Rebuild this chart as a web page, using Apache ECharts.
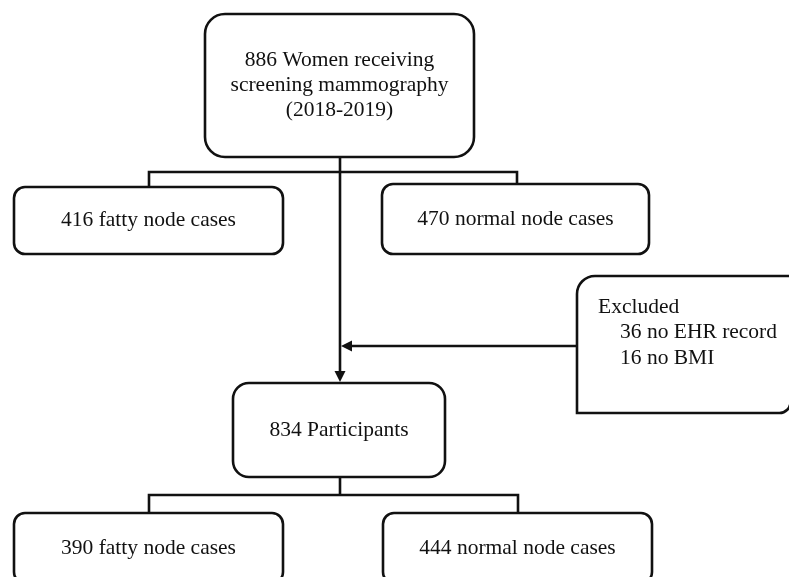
<!DOCTYPE html>
<html>
<head>
<meta charset="utf-8">
<script src="https://cdn.jsdelivr.net/npm/echarts@6/dist/echarts.min.js"></script>
<style>
html,body{margin:0;padding:0;background:#fff;}
#chart{width:789px;height:577px;}
</style>
</head>
<body>
<div id="chart"></div>
<script>
// ---- data ----
const screenedCount = 886;
const screenedLabel = ['Women receiving', 'screening mammography', '(2018-2019)'];
const nodeTypes = ['fatty node cases', 'normal node cases'];
const screenedByNode = [416, 470];
const excludedTitle = 'Excluded';
const excludedReasons = ['no EHR record', 'no BMI'];
const excludedCounts = [36, 16];
const participantCount = 834;
const participantLabel = 'Participants';
const participantsByNode = [390, 444];

// ---- layout (positions / sizes) ----
const FONT = '"Liberation Serif","Times New Roman",serif';
const FS = 21.5;
const LW = 2.6;
const INK = '#111';
const layout = {
  top: {x: 205, y: 14, w: 269, h: 143, r: 20},
  split1: [{x: 14, y: 187, w: 269, h: 67, r: 11}, {x: 382, y: 184, w: 267, h: 70, r: 11}],
  part: {x: 233, y: 383, w: 212, h: 94, r: 16},
  split2: [{x: 14, y: 513, w: 269, h: 70, r: 11}, {x: 383, y: 513, w: 269, h: 70, r: 11}],
  excl: {x: 577, y: 276, w: 213.5, h: 137, r: [18, 0, 11, 0]},
  spineX: 340,
  bar1Y: 172, bar2Y: 495,
  arrowY: 346
};

const els = [];
function box(b, lines, lineH) {
  els.push({type: 'rect', shape: {x: b.x, y: b.y, width: b.w, height: b.h, r: b.r},
    style: {fill: '#fff', stroke: INK, lineWidth: LW}, z: 2});
  const cx = b.x + b.w / 2, cy = b.y + b.h / 2;
  lines.forEach((t, i) => {
    els.push({type: 'text', x: cx, y: cy + (i - (lines.length - 1) / 2) * lineH,
      style: {text: t, font: FS + 'px ' + FONT, fill: INK, align: 'center', verticalAlign: 'middle'}, z: 3});
  });
}
function line(pts) {
  els.push({type: 'polyline', shape: {points: pts}, style: {stroke: INK, lineWidth: LW, fill: null}, z: 1});
}

const t = layout.top, L = layout;
// top box
box(t, [screenedCount + ' ' + screenedLabel[0], screenedLabel[1], screenedLabel[2]], 25);
// first split
line([[L.spineX, t.y + t.h], [L.spineX, L.part.y - 6]]);
line([[L.split1[0].x + L.split1[0].w / 2 + 0.5, L.split1[0].y], [L.split1[0].x + L.split1[0].w / 2 + 0.5, L.bar1Y],
      [L.split1[1].x + L.split1[1].w / 2 + 1.5, L.bar1Y], [L.split1[1].x + L.split1[1].w / 2 + 1.5, L.split1[1].y]]);
nodeTypes.forEach((n, i) => box(L.split1[i], [screenedByNode[i] + ' ' + n], 25));

// arrow heads
els.push({type: 'polygon', shape: {points: [[L.spineX - 5.5, L.part.y - 12], [L.spineX + 5.5, L.part.y - 12], [L.spineX, L.part.y - 1]]},
  style: {fill: INK}, z: 3});
line([[L.excl.x, L.arrowY], [L.spineX + 8, L.arrowY]]);
els.push({type: 'polygon', shape: {points: [[L.spineX + 12, L.arrowY - 5.5], [L.spineX + 12, L.arrowY + 5.5], [L.spineX + 1, L.arrowY]]},
  style: {fill: INK}, z: 3});

// excluded box (rounded top-left and bottom-right)
const e = L.excl;
els.push({type: 'rect', shape: {x: e.x, y: e.y, width: e.w, height: e.h, r: e.r},
  style: {fill: '#fff', stroke: INK, lineWidth: LW}, z: 2});
const exLines = [excludedTitle].concat(excludedReasons.map((r, i) => excludedCounts[i] + ' ' + r));
exLines.forEach((tx, i) => {
  els.push({type: 'text', x: i === 0 ? 598 : 620, y: 307 + i * 25.5,
    style: {text: tx, font: FS + 'px ' + FONT, fill: INK, align: 'left', verticalAlign: 'middle'}, z: 3});
});

// participants
box(L.part, [participantCount + ' ' + participantLabel], 25);
line([[L.spineX, L.part.y + L.part.h], [L.spineX, L.bar2Y]]);
line([[L.split2[0].x + L.split2[0].w / 2 + 0.5, L.split2[0].y], [L.split2[0].x + L.split2[0].w / 2 + 0.5, L.bar2Y],
      [L.split2[1].x + L.split2[1].w / 2 + 0.5, L.bar2Y], [L.split2[1].x + L.split2[1].w / 2 + 0.5, L.split2[1].y]]);
nodeTypes.forEach((n, i) => box(L.split2[i], [participantsByNode[i] + ' ' + n], 25));

const chart = echarts.init(document.getElementById('chart'), null, {renderer: 'canvas'});
chart.setOption({
  backgroundColor: '#fff',
  animation: false,
  graphic: {elements: els}
});
</script>
</body>
</html>
